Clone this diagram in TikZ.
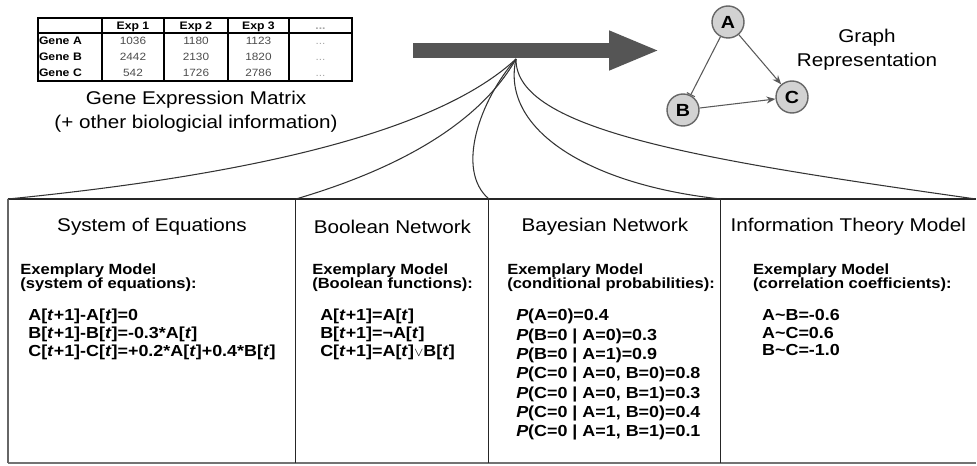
\documentclass[tikz,border=0pt]{standalone}
\usepackage{fontspec}
\setmainfont[FakeStretch=1.12]{Liberation Sans}
\usetikzlibrary{matrix,positioning,arrows.meta}
\definecolor{FlecheGris}{HTML}{555555}
\definecolor{NoeudGris}{HTML}{D2D2D2}
\newcommand{\tvar}{\textit{t}}

\begin{document}
\begin{tikzpicture}[x=0.02cm,y=-0.02cm]
    \tikzset{TexteStyle/.style = {inner sep=0pt,font=\fontsize{10.5}{13.7}\selectfont}}
    \tikzset{CaseStyle/.style = {inner sep=0pt,outer sep=0pt,minimum height=5.28cm}}
    \tikzset{CadreStyle/.style = {line width=0.6pt,color=black!85}}
    \tikzset{ModeleStyle/.style = {inner sep=0pt,align=left,font=\fontsize{8.4}{8}\selectfont\bfseries}}
    \tikzset{EquationStyle/.style = {inner sep=0pt,align=left,font=\fontsize{9.1}{#1}\selectfont\bfseries}}
    \tikzset{NoeudGene/.style = {circle,draw=black!60,fill=NoeudGris,line width=0.8pt,minimum size=0.64cm,inner sep=0pt,font=\fontsize{10}{10}\selectfont\bfseries}}
    \tikzset{LienStyle/.style = {line width=0.6pt,color=black!65}}
    \tikzset{EventailStyle/.style = {line width=0.6pt,color=black!80}}
    \tikzset{TableLigne/.style = {line width=0.7pt}}

    \useasboundingbox (0,0) rectangle (977,466);

    \matrix [%
      matrix of nodes,
      nodes in empty cells,
      inner sep=0pt,
      outer sep=0pt,
      column sep=0pt,
      row sep=0pt,
      anchor=north west,
      nodes={inner sep=0pt,minimum height=0.32cm,text height=2mm,text depth=0.5mm,text=black!70,font=\fontsize{6}{6}\selectfont},
      column 1/.style={nodes={text width=1.24cm,inner xsep=0.02cm,align=left,text=black,font=\fontsize{6.2}{6}\selectfont\bfseries}},
      column 2/.style={nodes={minimum width=1.24cm}},
      column 3/.style={nodes={minimum width=1.28cm}},
      column 4/.style={nodes={minimum width=1.22cm}},
      column 5/.style={nodes={minimum width=1.26cm,text=black!35}},
      row 1/.style={nodes={minimum height=0.30cm,text=black,font=\fontsize{6.2}{6}\selectfont\bfseries}},
      row 1 column 5/.style={nodes={text=black!35}}
    ] (gem) at (38,18) {%
               & Exp 1 & Exp 2 & Exp 3 & ... \\
        Gene A & 1036  & 1180  & 1123  & ... \\
        Gene B & 2442  & 2130  & 1820  & ... \\
        Gene C & 542   & 1726  & 2786  & ... \\
    };

    \draw[TableLigne] (gem-1-1.north west) rectangle (gem-4-5.south east);
    \draw[TableLigne] (gem-1-1.south west) -- (gem-1-5.south east);
    \foreach \c in {2,...,5}
      \draw[TableLigne] (gem-1-\c.north west) -- (gem-4-\c.south west);

    \node[TexteStyle,align=center] (gemtxt) at (196,112) {Gene Expression Matrix\\(+ other biologicial information)};

    % grosse fleche
    \coordinate (flecheA) at (413,50.5);
    \coordinate (flecheB) at (660,50.5);
    \draw[line width=0.3cm,color=FlecheGris,-{Triangle[length=1.02cm,width=0.72cm]}] (flecheA) -- (flecheB);

    % graphe
    \node[NoeudGene] (A) at (728,22) {A};
    \node[NoeudGene] (B) at (683,110) {B};
    \node[NoeudGene] (C) at (792,97) {C};
    \draw[LienStyle,-{Bar[width=1.8mm]}] (A) -- (B);
    \draw[LienStyle,-{Stealth[length=1.8mm,width=1.4mm]}] (A) -- (C);
    \draw[LienStyle,-{Stealth[length=1.8mm,width=1.4mm]}] (B) -- (C);
    \node[TexteStyle,align=center] (grtxt) at (867,50) {Graph\\Representation};

    % cases
    \node[CaseStyle,minimum width=5.76cm,anchor=north west] (soe) at (8,199) {};
    \node[CaseStyle,minimum width=3.86cm,right=0pt of soe] (bool) {};
    \node[CaseStyle,minimum width=4.64cm,right=0pt of bool] (bayes) {};
    \node[CaseStyle,minimum width=5.10cm,right=0pt of bayes] (info) {};

    \draw[CadreStyle] (soe.north west) -- (info.north east);
    \draw[line width=1.2pt,color=black!55] (soe.south west) -- (info.south east);
    \draw[line width=0.9pt,color=black!60] (soe.north west) -- (soe.south west);
    \draw[CadreStyle] (bool.north west) -- (bool.south west);
    \draw[CadreStyle] (bayes.north west) -- (bayes.south west);
    \draw[CadreStyle] (info.north west) -- (info.south west);

    % eventail
    \coordinate (eventail) at (516,59);
    \draw[EventailStyle] (eventail) .. controls (450,120) and (300,170) .. (soe.north west);
    \draw[EventailStyle] (eventail) .. controls (470,140) and (360,180) .. (bool.north west);
    \draw[EventailStyle] (eventail) .. controls (480,100) and (455,170) .. (bayes.north west);
    \draw[EventailStyle] (eventail) .. controls (500,130) and (590,185) .. (info.north west);
    \draw[EventailStyle] (eventail) .. controls (515,130) and (700,160) .. (info.north east);

    \node[TexteStyle] (soe-t) at ([yshift=-0.56cm]soe.north) {System of Equations};
    \node[TexteStyle] (bool-t) at ([yshift=-0.56cm]bool.north) {Boolean Network};
    \node[TexteStyle] (bayes-t) at ([yshift=-0.56cm]bayes.north) {Bayesian Network};
    \node[TexteStyle] (info-t) at ([yshift=-0.56cm]info.north) {Information Theory Model};

    \node[ModeleStyle,below right=1.28cm and 0.24cm of soe.north west] (soe-m) {Exemplary Model\\(system of equations):};
    \node[ModeleStyle,below right=1.28cm and 0.32cm of bool.north west] (bool-m) {Exemplary Model\\(Boolean functions):};
    \node[ModeleStyle,below right=1.28cm and 0.36cm of bayes.north west] (bayes-m) {Exemplary Model\\(conditional probabilities):};
    \node[ModeleStyle,below right=1.28cm and 0.64cm of info.north west] (info-m) {Exemplary Model\\(correlation coefficients):};

    \node[EquationStyle=10pt,below right=2.2cm and 0.40cm of soe.north west] (soe-eq)
      {A[\tvar+1]-A[\tvar]=0\\B[\tvar+1]-B[\tvar]=-0.3*A[\tvar]\\C[\tvar+1]-C[\tvar]=+0.2*A[\tvar]+0.4*B[\tvar]};
    \node[EquationStyle=10pt,below right=2.2cm and 0.48cm of bool.north west] (bool-eq)
      {A[\tvar+1]=A[\tvar]\\B[\tvar+1]=¬A[\tvar]\\C[\tvar+1]=A[\tvar]{\scriptsize$\vee$}B[\tvar]};
    \node[EquationStyle=11pt,below right=2.2cm and 0.54cm of bayes.north west] (bayes-eq)
      {\textit{P}(A=0)=0.4\\\textit{P}(B=0 | A=0)=0.3\\\textit{P}(B=0 | A=1)=0.9\\\textit{P}(C=0 | A=0, B=0)=0.8\\\textit{P}(C=0 | A=0, B=1)=0.3\\\textit{P}(C=0 | A=1, B=0)=0.4\\\textit{P}(C=0 | A=1, B=1)=0.1};
    \node[EquationStyle=10pt,below right=2.2cm and 0.82cm of info.north west] (info-eq)
      {A\textasciitilde B=-0.6\\A\textasciitilde C=0.6\\B\textasciitilde C=-1.0};
\end{tikzpicture}
\end{document}
